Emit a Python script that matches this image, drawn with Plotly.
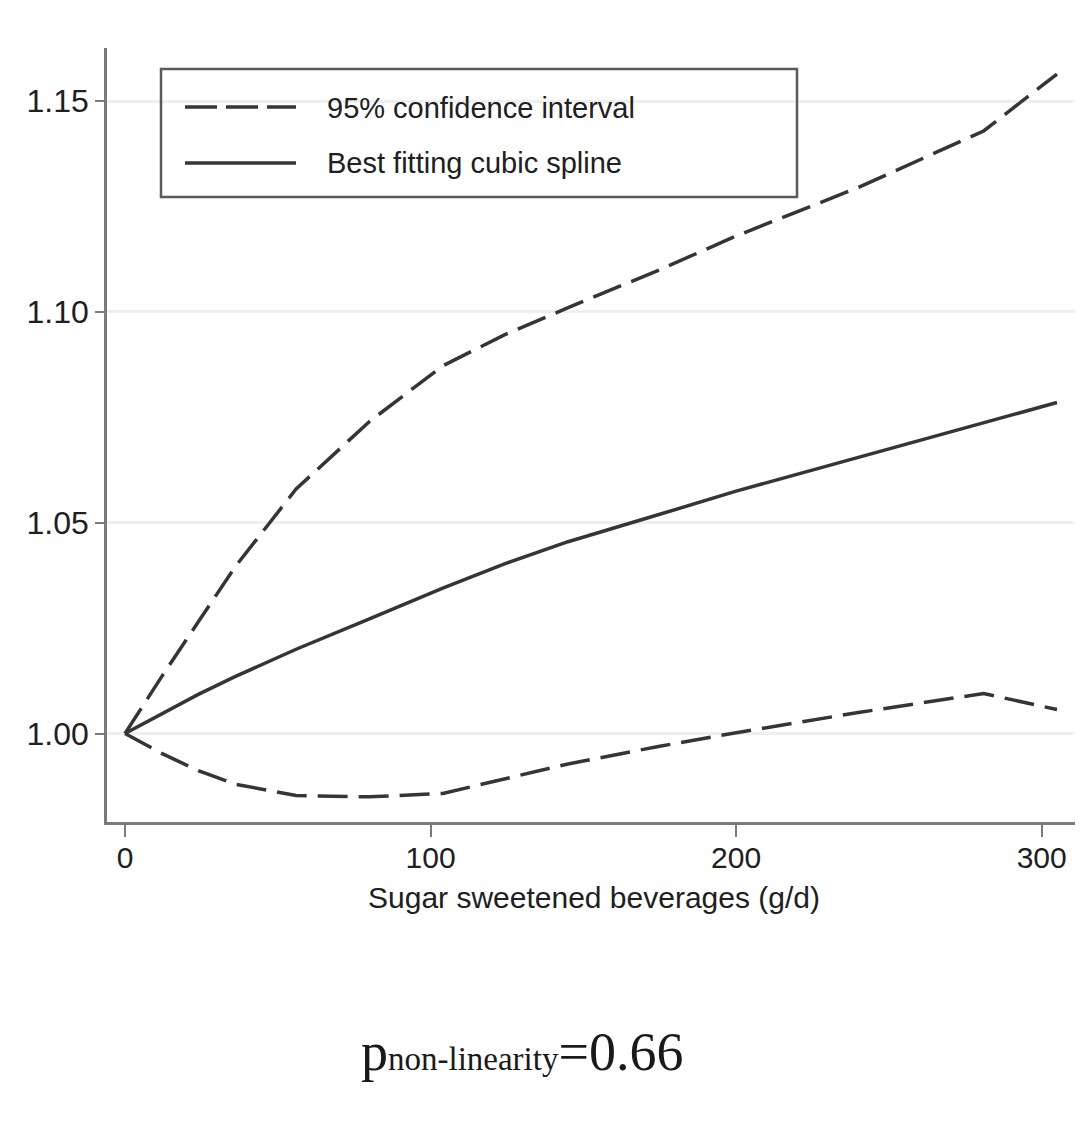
import plotly.graph_objects as go

# ---- data ----
sugar_gd = [0, 12, 24, 36, 56, 80, 104, 124, 145, 175, 200, 240, 281, 305]
best_fit = [1.000, 1.0047, 1.0093, 1.0135, 1.0200, 1.0272, 1.0345, 1.0402, 1.0455, 1.0520, 1.0575, 1.0655, 1.0738, 1.0785]
ci_upper = [1.000, 1.0135, 1.0265, 1.0395, 1.0580, 1.0740, 1.0872, 1.0945, 1.1010, 1.1100, 1.1180, 1.1295, 1.1429, 1.1564]
ci_lower = [1.000, 0.9953, 0.9912, 0.9880, 0.9853, 0.9850, 0.9858, 0.9893, 0.9928, 0.9970, 1.0002, 1.0050, 1.0095, 1.0057]

y_ticks = [1.00, 1.05, 1.10, 1.15]
y_tick_labels = ["1.00", "1.05", "1.10", "1.15"]
x_ticks = [0, 100, 200, 300]
x_tick_labels = ["0", "100", "200", "300"]

legend_ci = "95% confidence interval"
legend_fit = "Best fitting cubic spline"
x_title = "Sugar sweetened beverages (g/d)"

# ---- layout geometry (page pixels; the page body has an 8px margin) ----
OFF = 8
PLOT_L, PLOT_R, PLOT_T, PLOT_B = 107, 1075, 48, 822   # plot area in page pixels
W, H = 1074, 1105
L = PLOT_L - OFF
T = PLOT_T - OFF
R = OFF + W - PLOT_R
B = OFF + H - PLOT_B
PW, PH = PLOT_R - PLOT_L, PLOT_B - PLOT_T

def px(xp):
    return (xp - PLOT_L) / PW

def py(yp):
    return (PLOT_B - yp) / PH

LINE_COL = "#353535"
TEXT_COL = "#202020"
AXIS_COL = "#7a7a7a"
FONT = "Liberation Sans, Arial, sans-serif"
DASH = "30px,11px"

fig = go.Figure()
fig.add_trace(go.Scatter(x=sugar_gd, y=ci_upper, mode="lines", name=legend_ci,
                         line=dict(color=LINE_COL, width=3.5, dash=DASH), showlegend=False))
fig.add_trace(go.Scatter(x=sugar_gd, y=ci_lower, mode="lines", name=legend_ci,
                         line=dict(color=LINE_COL, width=3.5, dash=DASH), showlegend=False))
fig.add_trace(go.Scatter(x=sugar_gd, y=best_fit, mode="lines", name=legend_fit,
                         line=dict(color=LINE_COL, width=3.5), showlegend=False))

shapes = [
    # legend box
    dict(type="rect", xref="paper", yref="paper", x0=px(161), x1=px(797), y0=py(197), y1=py(69),
         line=dict(color="#5a5a5a", width=2.5), fillcolor="rgba(255,255,255,0)", layer="above"),
    dict(type="line", xref="paper", yref="paper", x0=px(185), x1=px(296), y0=py(107), y1=py(107),
         line=dict(color=LINE_COL, width=3.5, dash="32px,9px")),
    dict(type="line", xref="paper", yref="paper", x0=px(185), x1=px(296), y0=py(163), y1=py(163),
         line=dict(color=LINE_COL, width=3.5)),
]

annotations = [
    dict(text=legend_ci, xref="paper", yref="paper", x=px(325), y=py(108), xanchor="left", yanchor="middle",
         showarrow=False, font=dict(family=FONT, size=29, color=TEXT_COL)),
    dict(text=legend_fit, xref="paper", yref="paper", x=px(325), y=py(163), xanchor="left", yanchor="middle",
         showarrow=False, font=dict(family=FONT, size=29, color=TEXT_COL)),
    dict(text=x_title, xref="paper", yref="paper", x=px(594), y=py(897), xanchor="center", yanchor="middle",
         showarrow=False, font=dict(family=FONT, size=30, color=TEXT_COL)),
    dict(text="p<span style='font-size:33px'>non-linearity</span>=0.66",
         xref="paper", yref="paper", x=px(522), y=py(1052), xanchor="center", yanchor="middle",
         showarrow=False, font=dict(family="Liberation Serif, Times New Roman, serif", size=54, color="#1a1a1a")),
]

fig.update_layout(
    width=W, height=H,
    margin=dict(l=L, r=R, t=T, b=B, pad=0),
    paper_bgcolor="white", plot_bgcolor="white",
    shapes=shapes, annotations=annotations,
    showlegend=False,
    font=dict(family=FONT, color=TEXT_COL),
)
fig.update_xaxes(
    range=[-5.89, 310.9], tickvals=x_ticks, ticktext=x_tick_labels,
    showgrid=False, zeroline=False,
    showline=True, linecolor=AXIS_COL, linewidth=2.5,
    ticks="outside", ticklen=12, tickwidth=2, tickcolor=AXIS_COL,
    ticklabelstandoff=-5,
    tickfont=dict(family=FONT, size=30, color=TEXT_COL),
)
fig.update_yaxes(
    range=[0.97903, 1.16258], tickvals=y_ticks, ticktext=y_tick_labels,
    showgrid=True, gridcolor="#efefef", gridwidth=3, zeroline=False,
    showline=True, linecolor=AXIS_COL, linewidth=2.5,
    ticks="outside", ticklen=9, tickwidth=2, tickcolor=AXIS_COL,
    tickfont=dict(family=FONT, size=32, color=TEXT_COL),
)

fig.write_html("out.html")
